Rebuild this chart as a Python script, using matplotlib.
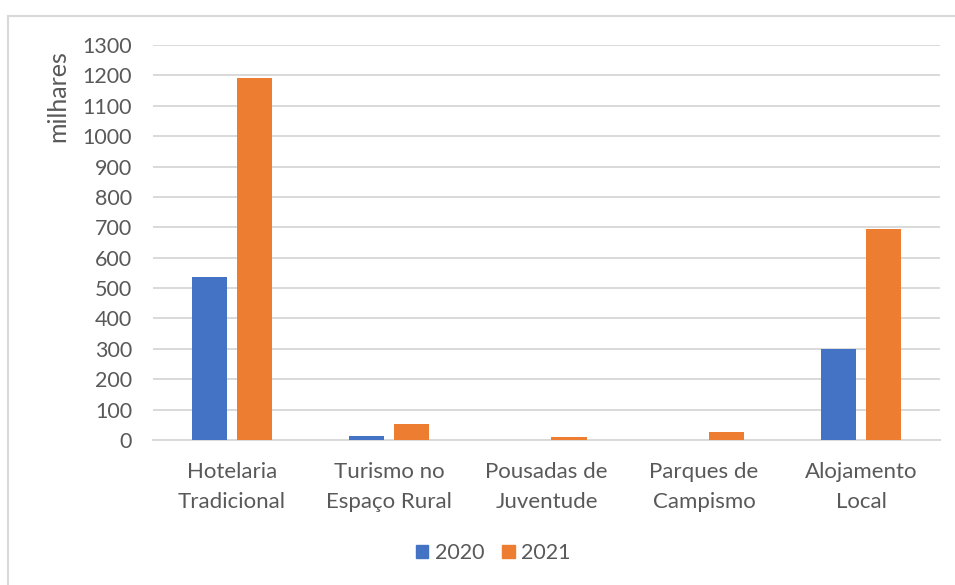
#!/usr/bin/env python3
"""
    Dormidas por tipo de alojamento, 2020 vs 2021 (milhares)
"""
import numpy as np
import matplotlib.pyplot as plt
from matplotlib.lines import Line2D
from matplotlib.patches import Patch

categories = ['Hotelaria\nTradicional', 'Turismo no\nEspaço Rural',
              'Pousadas de\nJuventude', 'Parques de\nCampismo',
              'Alojamento\nLocal']
years = ['2020', '2021']
values_2020 = [535, 14, 0, 0, 300]
values_2021 = [1190, 52, 10, 26, 695]
yticks = list(range(0, 1301, 100))

BLUE = '#4472C4'
ORANGE = '#ED7D31'
GRID = '#D9D9D9'
TEXT = '#595959'

plt.rcParams['font.family'] = ['Lato', 'DejaVu Sans']

fig = plt.figure(figsize=(9.55, 5.85), dpi=100)
ax = fig.add_axes([153 / 955, 1 - 440 / 585, 787 / 955, 395 / 585])

x = np.arange(len(categories))
width = 0.223
offset = 0.143
ax.bar(x - offset, values_2020, width, color=BLUE, label=years[0], zorder=3)
ax.bar(x + offset, values_2021, width, color=ORANGE, label=years[1], zorder=3)

ax.set_xlim(-0.5, len(categories) - 0.5)
ax.set_ylim(0, 1300)
ax.set_yticks(yticks)
ax.set_xticks(x)
ax.set_xticklabels(categories, linespacing=1.62)
ax.tick_params(axis='both', length=0, labelsize=15.5, colors=TEXT)
ax.tick_params(axis='x', labelsize=16, pad=16)
ax.tick_params(axis='y', pad=15)
ax.yaxis.grid(True, color=GRID, linewidth=1.4, zorder=0)
for side in ['top', 'right', 'left']:
    ax.spines[side].set_visible(False)
ax.spines['bottom'].set_color(GRID)
ax.spines['bottom'].set_linewidth(1.4)

fig.text(58 / 955, 1 - 96 / 585, 'milhares', rotation=90, ha='center',
         va='center', fontsize=18, color=TEXT)

handles = [Patch(color=BLUE), Patch(color=ORANGE)]
fig.legend(handles, years, loc='center', ncol=2,
           bbox_to_anchor=(493 / 955, 1 - 553 / 585), frameon=False,
           fontsize=15.5, labelcolor=TEXT, handlelength=0.6,
           handleheight=0.6, handletextpad=0.3, columnspacing=0.8)

# light chart-area border (left and top edges visible in the reference)
fig.add_artist(Line2D([8 / 955, 8 / 955], [0, 1 - 16 / 585],
                      color=GRID, linewidth=1.5, transform=fig.transFigure))
fig.add_artist(Line2D([8 / 955, 1], [1 - 16 / 585, 1 - 16 / 585],
                      color=GRID, linewidth=1.5, transform=fig.transFigure))

fig.savefig('out.png', dpi=100)
